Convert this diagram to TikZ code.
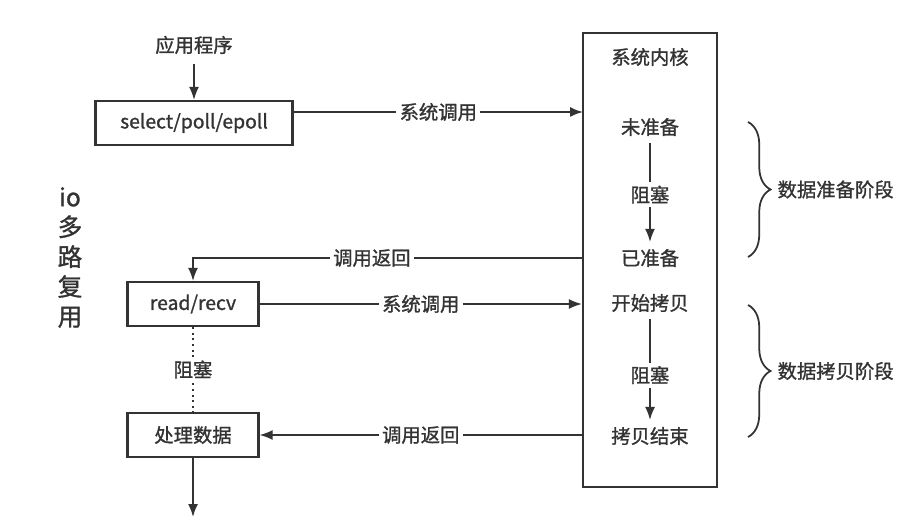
\documentclass[tikz,border=0pt]{standalone}
\usepackage{fontspec}
\newfontfamily\cjk[FakeBold=1.2]{Noto Sans CJK SC}
\usetikzlibrary{positioning,arrows.meta,decorations.pathreplacing}

\begin{document}
\begin{tikzpicture}[
  txt/.style={font=\cjk\fontsize{11}{13}\selectfont, text=black!80, inner sep=1pt},
  box/.style={draw=black!80, line width=1.2pt, minimum height=8.8mm,
              font=\cjk\fontsize{11}{13}\selectfont, text=black!80},
  lbl/.style={txt, fill=white, inner sep=2pt},
  arr/.style={-{Latex[length=2.6mm,width=2mm]}, draw=black!80, line width=1pt},
  dots/.style={draw=black!80, line width=1.2pt, dotted},
  brc/.style={decorate, decoration={brace, amplitude=4.5mm}, draw=black!80,
              line width=1pt},
]
  \useasboundingbox (0,0) rectangle (18.42,-10.6);

  % --- Kernel side ---
  \node[draw=black!80, line width=1.2pt, minimum width=2.68cm,
        minimum height=9.08cm] (kern) at (13.0,-5.2) {};
  \node[txt] (kname) at (13.0,-1.14) {系统内核};
  \node[txt] (nrdy)  at (13.0,-2.54) {未准备};
  \node[txt] (rdy)   at (13.0,-5.16) {已准备};
  \node[txt] (cpy)   at (13.0,-6.06) {开始拷贝};
  \node[txt] (done)  at (13.0,-8.72) {拷贝结束};
  \draw[arr, shorten <=1mm, shorten >=1mm] (nrdy) -- node[lbl, pos=0.52] {阻塞} (rdy);
  \draw[arr, shorten <=1mm, shorten >=1mm] (cpy) -- node[lbl, pos=0.55] {阻塞} (done);

  % Braces for the two phases
  \draw[brc] (14.96,-2.44) -- coordinate[xshift=4.5mm] (b1) (14.96,-5.14);
  \draw[brc] (14.96,-6.1)  -- coordinate[xshift=4.5mm] (b2) (14.96,-8.74);
  \node[txt, anchor=west, right=1mm of b1] (ph1) {数据准备阶段};
  \node[txt, anchor=west, right=1mm of b2] (ph2) {数据拷贝阶段};

  % --- Application side ---
  \node[txt] (app) at (3.88,-0.9) {应用程序};
  \node[box, minimum width=3.94cm] (sel)  at (3.88,-2.46) {select/poll/epoll};
  \node[box, minimum width=2.62cm] (read) at (3.86,-6.08) {read/recv};
  \node[box, minimum width=2.62cm] (proc) at (3.86,-8.7)  {处理数据};
  \coordinate (k1)  at (11.66,-2.24);
  \coordinate (out) at (3.86,-10.34);

  \node[font=\cjk\fontsize{14}{17}\selectfont, text=black!80, align=center]
    (iomux) at (1.4,-5.15) {io\\多\\路\\复\\用};

  % Connectors
  \draw[arr, shorten <=1.5mm] (app) -- (sel);
  \draw[arr] (sel.east |- k1) -- node[lbl] {系统调用} (k1);
  \draw[arr] (kern.west |- rdy) -| node[lbl, pos=0.27] {调用返回} (read.north);
  \draw[arr] (read.east) -- node[lbl] {系统调用} (read.east -| kern.west);
  \draw[dots] (read.south) -- node[lbl] {阻塞} (proc.north);
  \draw[arr] (kern.west |- proc) -- node[lbl] {调用返回} (proc.east);
  \draw[arr] (proc.south) -- (out);
\end{tikzpicture}
\end{document}
